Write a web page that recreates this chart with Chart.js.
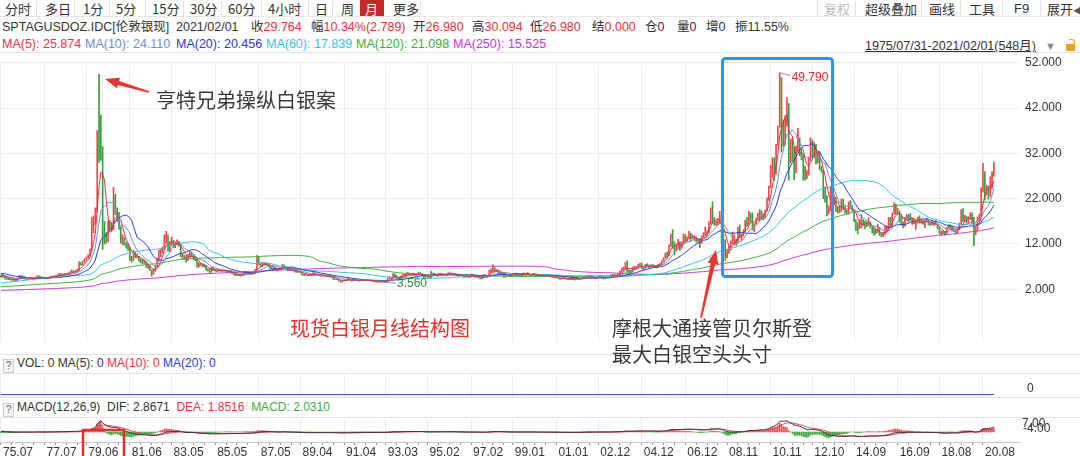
<!DOCTYPE html>
<html>
<head>
<meta charset="utf-8">
<script src="https://cdn.jsdelivr.net/npm/chart.js@4.4.1/dist/chart.umd.min.js"></script>
<style>
  body { margin: 0; width: 1080px; height: 456px; overflow: hidden; background: #fff; position: relative;
         font-family: "Liberation Sans", "Noto Sans CJK SC", sans-serif; color: #333; }
  .t { position: absolute; white-space: nowrap; font-size: 12.5px; line-height: 16px; }
  .tb { position: absolute; top: 0; white-space: nowrap; font-size: 13px; line-height: 17px; font-family: "Noto Sans CJK SC", sans-serif; }
  .sep { position: absolute; top: 1px; width: 1px; height: 15px; background: #e2e2e2; }
  .hl { position: absolute; left: 0; width: 1080px; height: 1px; background: #e3e3e3; }
  .r { color: #e8303a; }
  .q { display: inline-block; width: 9px; height: 12px; line-height: 12px; border: 1px solid #ccc; background: #f4f4f4;
       font-size: 10px; text-align: center; color: #666; vertical-align: -2px; margin-right: 3px; }
  canvas { position: absolute; left: 0; }
  .note { position: absolute; white-space: nowrap; font-family: "Noto Sans CJK SC", sans-serif; font-size: 20px; line-height: 24px; color: #3a3a3a; }
</style>
</head>
<body>
<!-- toolbar -->
<div class="tb" style="left:5px">分时</div>
<div class="sep" style="left:36px"></div>
<div class="tb" style="left:45px">多日</div>
<div class="sep" style="left:74px"></div>
<div class="tb" style="left:83px">1分</div>
<div class="sep" style="left:109px"></div>
<div class="tb" style="left:116px">5分</div>
<div class="sep" style="left:145px"></div>
<div class="tb" style="left:152px">15分</div>
<div class="sep" style="left:183px"></div>
<div class="tb" style="left:190px">30分</div>
<div class="sep" style="left:221px"></div>
<div class="tb" style="left:228px">60分</div>
<div class="sep" style="left:261px"></div>
<div class="tb" style="left:268px">4小时</div>
<div class="sep" style="left:308px"></div>
<div class="tb" style="left:315px">日</div>
<div class="sep" style="left:332px"></div>
<div class="tb" style="left:341px">周</div>
<div style="position:absolute;left:360px;top:0;width:24px;height:16px;background:#c42a2c"></div>
<div class="tb" style="left:365px;color:#fff">月</div>
<div class="tb" style="left:393px">更多</div>
<div class="sep" style="left:420px"></div>
<div class="sep" style="left:817px"></div>
<div class="tb" style="left:824px;color:#bdbdbd">复权</div>
<div class="sep" style="left:855px"></div>
<div class="tb" style="left:865px">超级叠加</div>
<div class="sep" style="left:921px"></div>
<div class="tb" style="left:929px">画线</div>
<div class="sep" style="left:960px"></div>
<div class="tb" style="left:969px">工具</div>
<div class="sep" style="left:1002px"></div>
<div class="tb" style="left:1014px;font-family:'Liberation Sans'">F9</div>
<div class="sep" style="left:1040px"></div>
<div class="tb" style="left:1047px">展开<span style="font-size:9px;color:#555">◀</span></div>
<div class="hl" style="top:16px;background:#e6e6e6"></div>

<!-- quote rows -->
<div class="t" style="left:2px;top:19px">SPTAGUSDOZ.IDC[伦敦银现]</div>
<div class="t" style="left:176px;top:19px">2021/02/01</div>
<div class="t" style="left:251px;top:19px">收<span class="r">29.764</span></div>
<div class="t" style="left:311px;top:19px">幅<span class="r">10.34%(2.789)</span></div>
<div class="t" style="left:413px;top:19px">开<span class="r">26.980</span></div>
<div class="t" style="left:472px;top:19px">高<span class="r">30.094</span></div>
<div class="t" style="left:530px;top:19px">低<span class="r">26.980</span></div>
<div class="t" style="left:592px;top:19px">结<span class="r">0.000</span></div>
<div class="t" style="left:645px;top:19px">仓0</div>
<div class="t" style="left:677px;top:19px">量0</div>
<div class="t" style="left:706px;top:19px">增0</div>
<div class="t" style="left:735px;top:19px">振11.55%</div>

<div class="t" style="left:2px;top:36px;color:#e8304a">MA(5): 25.874</div>
<div class="t" style="left:85px;top:36px;color:#6b8fc6">MA(10): 24.110</div>
<div class="t" style="left:176px;top:36px;color:#2a3ad8">MA(20): 20.456</div>
<div class="t" style="left:266px;top:36px;color:#2ec6e4">MA(60): 17.839</div>
<div class="t" style="left:356px;top:36px;color:#3aae3a">MA(120): 21.098</div>
<div class="t" style="left:453px;top:36px;color:#cc33dd">MA(250): 15.525</div>
<div class="t" style="left:865px;top:38px;text-decoration:underline">1975/07/31-2021/02/01(548月)</div>
<div class="t" style="left:1045px;top:38px;color:#888;font-size:11px">▼</div>
<div style="position:absolute;left:1066px;top:44px;width:9px;height:7px;background:#f0a020"></div>
<div style="position:absolute;left:1068px;top:39px;width:5px;height:6px;border:1.5px solid #f0a020;border-bottom:none;border-radius:3px 3px 0 0;border-left-color:transparent"></div>
<div class="hl" style="top:52px"></div>

<canvas id="main" width="1080" height="301" style="top:53px"></canvas>

<div class="hl" style="top:354px"></div>
<div class="t" style="left:3px;top:355px;font-size:12px">
  <span class="q">?</span>VOL: 0 MA(5): 0 <span style="color:#e8304a">MA(10): 0</span> <span style="color:#2a3ad8">MA(20): 0</span></div>
<div class="hl" style="top:373px"></div>
<canvas id="vol" width="1080" height="24" style="top:373px"></canvas>
<div class="t" style="left:1027px;top:380px;font-size:12px">0</div>
<div class="hl" style="top:397px"></div>
<div class="t" style="left:3px;top:399px;font-size:12px">
  <span class="q">?</span>MACD(12,26,9)&nbsp; DIF: 2.8671&nbsp; <span style="color:#e8304a">DEA: 1.8516</span>&nbsp; <span style="color:#3aae3a">MACD: 2.0310</span></div>
<div class="hl" style="top:417px"></div>
<canvas id="macd" width="1080" height="39" style="top:417px"></canvas>
<div class="t" style="left:1022px;top:415px;font-size:12px">7.00</div>
<div class="t" style="left:1023px;top:420px;font-size:12px">-4.00</div>

<!-- hand annotations -->
<div class="note" style="left:156px;top:88px">亨特兄弟操纵白银案</div>
<div class="note" style="left:290px;top:316px;color:#e8302a">现货白银月线结构图</div>
<div class="note" style="left:612px;top:316px">摩根大通接管贝尔斯登</div>
<div class="note" style="left:612px;top:342px">最大白银空头头寸</div>
<svg width="1080" height="456" style="position:absolute;left:0;top:0;pointer-events:none">
  <rect x="722.5" y="58.5" width="110" height="218" rx="3" fill="none" stroke="#2d96e8" stroke-width="3"/>
  <rect x="83" y="430" width="41" height="30" fill="none" stroke="#e5302a" stroke-width="2.5"/>
  <path id="arrow1" fill="#e8342c"/>
  <path id="arrow2" fill="#e8342c"/>
</svg>

<script>
// monthly silver candles, 1975.07 .. 2021.02 (548 bars); open = previous close
const closes = [
  4.80,5.05,4.45,4.35,4.25,4.20,
  4.05,4.20,3.95,4.40,4.80,4.65,4.75,4.30,4.30,4.35,4.40,4.35,
  4.45,4.65,4.85,4.70,4.55,4.45,4.50,4.45,4.60,4.80,4.75,4.85,
  4.95,5.10,5.45,5.00,5.35,5.30,5.45,5.55,5.80,6.05,5.85,6.05,
  6.20,7.60,7.50,8.05,8.55,8.95,9.40,10.70,16.20,16.50,19.20,36.00,
  34.50,33.00,14.00,13.30,13.20,16.30,16.00,15.60,21.00,19.40,18.00,15.70,
  12.80,13.00,12.00,11.50,11.20,8.90,8.60,10.10,9.20,9.20,8.60,8.20,
  7.90,8.00,7.00,7.00,6.20,5.40,6.10,7.00,8.30,9.30,10.30,10.90,
  13.80,13.90,10.60,12.00,12.80,11.50,12.10,12.30,11.80,9.60,9.00,9.10,
  8.40,9.20,10.20,9.30,9.00,8.60,7.20,7.30,7.40,7.30,7.20,6.40,
  6.20,5.90,6.80,6.20,6.20,6.10,6.20,6.20,6.10,6.10,5.90,5.90,
  6.00,5.60,5.40,5.10,5.20,5.10,5.10,5.20,5.80,5.60,5.50,5.40,
  5.50,5.60,6.30,8.00,7.60,7.10,7.80,7.40,7.60,7.30,6.90,6.70,
  6.50,6.40,6.20,6.50,6.50,7.40,6.90,6.60,6.30,6.30,6.30,6.10,
  5.90,5.90,5.80,5.70,5.20,5.20,5.30,5.10,5.10,5.10,5.60,5.20,
  5.20,5.10,5.00,5.00,5.10,4.90,4.90,4.70,4.80,4.30,4.20,4.20,
  3.90,3.70,3.90,4.00,4.10,4.40,4.10,3.90,4.10,4.00,4.00,3.90,
  4.10,4.10,4.00,3.90,4.00,4.00,3.90,3.80,3.70,3.70,3.70,3.70,
  3.70,3.60,3.80,4.40,4.60,4.40,5.30,4.90,4.20,4.30,4.80,5.10,
  5.10,5.30,5.60,5.30,5.40,5.30,5.10,5.30,5.60,5.30,5.00,4.90,
  4.80,4.70,4.50,5.50,5.40,5.10,5.00,5.40,5.40,5.40,5.20,5.20,
  5.50,5.60,5.50,5.30,5.30,5.10,5.00,5.20,4.90,4.80,4.80,4.80,
  4.70,5.20,5.00,4.70,4.80,4.60,4.40,4.50,5.10,4.80,5.00,6.00,
  6.00,6.70,6.00,6.20,5.40,5.70,5.40,4.90,5.30,5.00,5.00,5.00,
  5.30,5.50,5.10,5.10,5.00,5.40,5.30,5.20,5.40,5.20,5.10,5.40,
  5.10,5.20,5.00,5.00,4.90,5.00,4.90,5.00,4.90,4.80,4.70,4.60,
  4.60,4.40,4.30,4.30,4.40,4.40,4.20,4.20,4.60,4.20,4.10,4.60,
  4.20,4.30,4.50,4.60,4.90,4.90,4.80,4.50,4.60,4.40,4.60,4.70,
  4.90,4.60,4.40,4.50,4.60,4.60,5.10,5.00,5.20,5.00,5.30,5.90,
  6.30,6.60,7.90,6.20,6.10,5.90,6.60,6.90,6.90,7.30,7.60,6.80,
  6.70,7.30,7.20,7.00,7.30,7.10,7.20,6.90,7.50,7.70,8.20,8.80,
  9.70,9.60,11.60,13.40,12.40,10.80,11.30,12.40,11.50,12.20,13.80,12.90,
  13.40,14.20,13.30,13.40,13.40,12.50,12.90,12.10,13.70,14.20,14.40,14.80,
  16.80,19.80,17.20,16.40,16.90,17.50,17.80,13.60,12.90,9.80,10.30,11.30,
  12.60,13.10,13.10,12.40,15.60,13.90,13.90,14.80,16.70,16.30,18.50,16.90,
  16.10,16.40,17.50,18.70,18.40,18.70,18.00,19.40,22.10,24.40,28.30,30.90,
  27.90,33.80,37.90,48.60,38.30,34.90,40.00,41.70,30.00,34.60,32.70,28.20,
  33.30,34.60,32.50,31.20,28.50,27.40,27.90,31.00,34.60,32.30,32.80,30.00,
  31.80,29.00,28.30,24.30,22.20,19.70,19.80,23.70,21.70,21.90,19.50,19.50,
  19.20,21.20,19.80,19.10,18.80,21.00,20.40,19.50,17.10,16.30,15.60,15.60,
  17.20,16.70,16.60,16.30,16.80,15.60,14.70,14.60,14.50,15.50,14.10,13.80,
  14.40,15.00,15.40,17.90,16.00,18.60,20.30,18.70,19.20,17.70,16.50,16.00,
  17.60,18.40,18.20,17.30,17.40,16.60,16.70,17.60,16.70,16.70,16.50,17.20,
  17.30,16.40,16.30,16.40,16.40,16.20,15.50,14.50,14.70,14.40,14.20,15.50,
  16.10,15.90,15.10,14.90,14.60,15.30,16.40,18.40,17.00,18.10,17.00,17.90,
  18.00,16.70,14.00,15.00,18.00,18.60,24.40,28.00,23.40,23.90,22.60,26.40,
  26.975,29.764
];
const highs = [
  5.15,5.30,5.10,4.60,4.45,4.35,
  4.30,4.35,4.25,4.50,5.05,5.00,4.95,4.80,4.45,4.45,4.55,4.50,
  4.55,4.70,4.95,4.95,4.75,4.60,4.55,4.55,4.65,4.85,4.90,4.95,
  5.00,5.20,5.55,5.45,5.40,5.50,5.55,5.65,5.90,6.30,6.10,6.15,
  6.40,8.10,7.90,8.20,8.70,9.10,9.60,10.90,17.80,18.20,20.00,37.00,
  49.45,40.50,33.50,17.00,14.50,17.00,17.20,16.80,24.50,23.00,20.00,19.00,
  15.80,14.00,13.40,12.30,12.00,11.20,9.30,10.60,10.20,9.80,9.30,8.70,
  8.60,8.50,8.10,7.30,7.10,6.30,6.40,7.30,8.90,10.60,10.90,11.30,
  14.00,14.80,14.00,12.50,13.50,12.80,12.50,12.90,12.60,12.00,9.90,9.50,
  9.20,9.70,10.30,10.10,9.60,9.10,8.60,7.90,7.80,7.60,7.50,7.30,
  6.50,6.40,7.00,6.90,6.40,6.30,6.40,6.40,6.30,6.30,6.20,6.00,
  6.20,6.10,5.70,5.50,5.30,5.30,5.20,5.30,5.90,5.90,5.70,5.60,
  5.60,5.70,6.40,9.50,9.20,7.80,8.00,7.90,7.80,7.80,7.40,7.00,
  6.80,6.70,6.60,6.60,6.70,7.50,7.40,7.00,6.70,6.50,6.40,6.40,
  6.20,6.10,6.00,5.90,5.70,5.30,5.40,5.30,5.30,5.30,5.70,5.70,
  5.40,5.40,5.10,5.10,5.20,5.10,5.00,5.00,4.90,4.80,4.30,4.30,
  4.20,3.90,4.00,4.10,4.20,4.60,4.40,4.10,4.20,4.20,4.10,4.00,
  4.20,4.20,4.20,4.00,4.10,4.10,4.00,3.90,3.80,3.80,3.80,3.80,
  3.80,3.70,3.90,4.50,4.80,4.60,5.40,5.40,5.00,4.40,4.90,5.20,
  5.30,5.50,5.80,5.60,5.50,5.60,5.40,5.40,5.80,5.70,5.40,5.10,
  4.90,4.80,4.70,6.00,5.60,5.50,5.20,5.50,5.60,5.50,5.40,5.30,
  5.60,5.80,5.60,5.60,5.40,5.30,5.20,5.30,5.20,4.90,4.90,4.90,
  4.90,5.30,5.30,5.00,4.80,4.80,4.60,4.60,5.30,5.20,5.10,6.20,
  6.50,7.40,6.80,6.40,6.20,5.80,5.70,5.50,5.50,5.30,5.20,5.10,
  5.50,5.60,5.60,5.40,5.30,5.50,5.60,5.30,5.70,5.60,5.30,5.50,
  5.50,5.40,5.30,5.10,5.10,5.10,5.10,5.10,5.10,5.00,4.80,4.70,
  4.80,4.60,4.50,4.40,4.60,4.50,4.40,4.40,4.80,4.80,4.30,4.70,
  4.60,4.40,4.60,4.70,5.00,5.10,5.00,4.80,4.70,4.60,4.60,4.80,
  5.00,4.90,4.70,4.60,4.80,4.70,5.20,5.30,5.30,5.20,5.40,6.00,
  6.70,6.90,7.90,8.30,6.30,6.20,6.90,7.10,7.00,7.50,7.80,7.80,
  6.90,7.50,7.60,7.40,7.40,7.50,7.30,7.30,7.50,7.70,8.30,9.00,
  10.00,10.20,11.80,14.20,15.20,12.50,11.80,13.00,12.50,12.50,14.20,14.10,
  13.60,14.80,14.40,14.00,13.80,13.60,13.20,13.00,13.80,14.50,15.80,14.90,
  16.90,20.00,21.30,17.80,17.10,17.60,19.20,18.00,14.00,12.90,10.80,11.50,
  12.70,14.60,14.00,13.10,15.70,16.20,14.20,15.10,17.30,17.90,19.20,18.90,
  18.80,16.50,17.70,18.80,19.60,19.30,18.70,19.50,22.20,24.80,29.30,31.00,
  31.00,34.00,38.00,49.79,48.70,39.40,40.30,44.30,43.00,35.10,35.50,33.30,
  33.60,37.50,35.40,33.00,31.60,29.20,28.20,31.20,35.40,34.90,34.50,34.00,
  32.40,32.40,29.10,28.40,24.60,22.70,20.40,24.80,25.20,22.80,22.30,20.30,
  20.40,21.90,21.90,20.30,19.50,21.30,21.60,20.50,19.60,17.40,16.70,17.30,
  18.50,17.40,17.10,16.90,17.80,16.90,15.80,15.60,15.20,16.40,15.60,14.30,
  14.60,15.90,16.00,17.90,17.90,18.80,21.10,20.80,19.90,19.30,18.50,16.90,
  17.90,18.50,18.50,18.70,17.60,17.60,17.00,17.90,18.20,17.50,17.30,17.20,
  17.70,17.30,16.70,17.30,16.80,17.30,16.20,15.60,14.90,14.90,14.70,15.60,
  16.20,16.20,15.90,15.20,14.90,15.50,16.60,19.60,19.80,18.30,18.10,18.00,
  18.90,18.90,17.90,15.70,18.00,18.60,24.40,29.80,28.00,25.00,24.70,26.80,
  28.00,30.094
];
const lows = [
  4.60,4.70,4.30,4.20,4.10,4.05,
  3.95,3.95,3.85,3.90,4.35,4.50,4.50,4.25,4.20,4.20,4.30,4.25,
  4.30,4.40,4.60,4.60,4.50,4.35,4.40,4.40,4.40,4.55,4.65,4.70,
  4.80,4.90,5.05,4.95,4.95,5.20,5.25,5.35,5.50,5.75,5.70,5.80,
  5.95,6.15,7.30,7.40,8.00,8.50,8.80,9.30,10.60,14.50,16.20,19.00,
  30.00,30.50,10.80,12.00,12.20,12.50,15.20,14.80,15.20,18.50,17.00,15.20,
  12.20,11.80,11.70,11.10,10.60,8.40,8.00,8.40,9.00,8.90,8.20,7.90,
  7.60,7.70,6.80,6.60,6.10,4.90,5.30,6.00,6.90,8.20,9.20,10.00,
  10.80,12.20,10.40,10.30,11.70,11.20,11.20,11.80,11.50,9.20,8.70,8.60,
  8.00,8.30,9.10,9.20,8.60,8.30,6.90,6.90,7.20,7.00,6.90,6.20,
  6.00,5.60,5.80,6.10,6.00,5.90,6.00,6.00,5.90,6.00,5.80,5.70,
  5.80,5.50,5.30,5.00,5.00,5.00,4.90,5.00,5.10,5.50,5.40,5.30,
  5.30,5.40,5.50,6.20,7.40,6.90,7.00,7.30,7.30,7.20,6.60,6.50,
  6.30,6.30,6.00,6.20,6.40,6.40,6.80,6.50,6.10,6.10,6.10,6.00,
  5.80,5.70,5.70,5.60,5.10,5.00,5.10,5.00,5.00,5.00,5.00,5.10,
  5.10,5.00,4.90,4.90,4.90,4.80,4.80,4.70,4.60,4.20,4.10,4.10,
  3.80,3.60,3.60,3.90,3.90,4.00,4.00,3.80,3.80,3.90,3.90,3.80,
  3.90,4.00,3.90,3.90,3.90,3.90,3.80,3.70,3.60,3.60,3.60,3.60,
  3.60,3.56,3.60,3.80,4.30,4.30,4.40,4.80,4.20,4.10,4.20,4.70,
  5.00,5.00,5.20,5.20,5.20,5.20,5.00,5.00,5.30,5.20,4.90,4.60,
  4.60,4.60,4.40,4.40,5.20,5.00,4.90,4.90,5.20,5.20,5.10,5.10,
  5.20,5.40,5.40,5.20,5.20,5.00,4.90,5.00,4.90,4.70,4.70,4.70,
  4.60,4.70,5.00,4.60,4.60,4.50,4.30,4.30,4.50,4.80,4.70,5.00,
  5.60,5.90,5.80,5.90,5.30,5.10,5.30,4.70,4.70,4.90,4.80,4.80,
  5.00,5.30,5.00,5.00,4.90,4.90,5.20,5.10,5.10,5.10,5.00,5.00,
  5.00,5.00,4.90,4.90,4.90,4.90,4.90,4.80,4.80,4.70,4.60,4.50,
  4.50,4.40,4.20,4.30,4.30,4.30,4.20,4.10,4.10,4.10,4.00,4.10,
  4.20,4.20,4.30,4.50,4.60,4.80,4.60,4.40,4.50,4.40,4.40,4.50,
  4.60,4.50,4.30,4.30,4.50,4.50,4.50,4.90,4.90,4.80,5.00,5.30,
  5.80,6.10,6.50,5.80,5.50,5.60,5.80,6.50,6.50,6.80,7.20,6.50,
  6.30,6.60,7.00,6.80,6.90,7.00,6.90,6.70,6.80,7.40,7.50,8.20,
  8.80,9.00,9.50,11.40,11.00,9.60,10.50,11.00,10.60,11.00,12.30,12.60,
  12.60,13.20,12.70,13.20,12.80,12.40,12.40,11.20,12.20,13.40,13.80,13.90,
  14.50,16.30,16.60,16.10,16.10,16.30,16.60,12.30,10.50,8.40,8.90,9.90,
  10.60,12.00,11.90,11.70,12.20,13.40,12.80,13.80,14.70,15.90,16.30,16.80,
  15.10,14.70,16.30,17.40,17.10,17.60,17.30,17.70,19.30,21.60,24.90,26.70,
  26.10,27.40,33.80,37.80,32.30,33.50,33.80,38.00,26.10,29.90,30.20,26.20,
  27.70,32.60,31.50,30.60,26.10,26.10,26.40,27.20,30.40,31.10,31.20,29.60,
  29.90,28.40,27.90,22.00,21.20,18.20,18.60,19.30,20.60,20.60,19.20,18.80,
  18.90,19.20,19.60,18.80,18.70,18.60,20.20,19.20,16.90,15.00,14.20,15.30,
  15.60,16.10,15.30,15.80,16.00,15.50,14.40,13.90,14.30,14.50,13.90,13.60,
  13.60,14.00,14.80,15.20,15.70,15.80,18.60,18.50,18.60,16.80,16.20,15.60,
  15.90,17.40,16.80,17.20,16.30,16.40,15.20,16.60,16.60,16.60,16.30,15.60,
  16.90,16.20,16.10,16.20,16.10,16.20,15.30,14.30,13.90,14.30,13.90,14.20,
  15.40,15.60,14.90,14.70,14.20,14.30,15.20,16.30,16.90,16.90,16.60,16.60,
  17.50,16.50,11.60,14.30,15.00,17.10,18.30,23.50,21.70,22.90,21.90,22.50,
  24.20,26.98
];
// closes before the window (1954.10 .. 1975.06), used only to warm up MA / MACD
const prior = [
  0.85,0.86,0.86,
  0.87,0.87,0.88,0.88,0.89,0.89,0.90,0.90,0.91,0.91,0.91,0.91,
  0.91,0.91,0.91,0.91,0.91,0.91,0.91,0.91,0.91,0.91,0.91,0.91,
  0.91,0.91,0.91,0.91,0.91,0.91,0.91,0.91,0.91,0.90,0.90,0.90,
  0.89,0.89,0.88,0.88,0.88,0.88,0.89,0.89,0.90,0.90,0.90,0.90,
  0.91,0.91,0.91,0.91,0.91,0.91,0.91,0.91,0.91,0.91,0.91,0.91,
  0.91,0.91,0.91,0.91,0.91,0.91,0.91,0.91,0.91,0.91,0.91,0.91,
  0.91,0.91,0.91,0.91,0.91,0.91,0.91,0.91,0.91,0.91,0.95,1.04,
  1.02,1.02,1.01,1.02,1.03,1.05,1.07,1.08,1.10,1.15,1.17,1.21,
  1.22,1.26,1.28,1.28,1.28,1.29,1.29,1.29,1.29,1.29,1.29,1.29,
  1.29,1.29,1.29,1.29,1.29,1.29,1.29,1.29,1.29,1.29,1.29,1.29,
  1.29,1.29,1.29,1.29,1.29,1.29,1.29,1.29,1.29,1.29,1.29,1.29,
  1.29,1.29,1.29,1.29,1.29,1.29,1.29,1.29,1.29,1.29,1.29,1.29,
  1.29,1.29,1.29,1.29,1.29,1.40,1.70,1.85,1.85,1.90,2.00,2.10,
  2.10,2.05,2.10,2.30,2.50,2.40,2.30,2.25,2.20,2.05,1.95,1.95,
  2.00,1.90,1.85,1.80,1.75,1.70,1.75,1.85,1.90,1.90,1.90,1.85,
  1.90,1.90,1.90,1.90,1.80,1.75,1.75,1.80,1.85,1.90,1.85,1.80,
  1.75,1.65,1.75,1.80,1.75,1.75,1.80,1.80,1.75,1.75,1.75,1.80,
  1.85,1.95,2.00,2.05,2.05,2.00,2.15,2.30,2.30,2.35,2.45,2.65,
  2.70,3.00,3.20,3.05,3.30,3.50,3.90,3.60,3.50,3.80,4.10,4.50,
  5.00,6.80,6.60,6.20,6.10,5.70,5.50,5.40,5.60,5.90,5.80,5.40,
  5.00,5.10,5.00,4.90,5.10,5.00
];
const volumes = closes.map(() => 0);   // the feed carries no volume

const tickLabels = ['75.07','77.07','79.06','81.06','83.05','85.05','87.05','89.04','91.04','93.03','95.02','97.02',
                    '99.01','01.01','02.12','04.12','06.12','08.11','10.11','12.10','14.09','16.09','18.08','20.08'];
const tickBars = [0,24,47,71,94,118,142,165,189,212,235,259,282,306,329,353,377,400,424,447,470,494,517,541];
const priceTicks = [2,12,22,32,42,52];
const maPeriods = [5,10,20,60,120,250];
const maColors = ['#e8304a','#6b8fc6','#2a3ad8','#2ec6e4','#3aae3a','#cc33dd'];

const UP = '#f0474a', DOWN = '#3a9e3a', GRID = '#ececec';
const N = closes.length;
const opens = closes.map((c, i) => i ? closes[i - 1] : prior[prior.length - 1]);
const full = prior.concat(closes);
const P0 = prior.length;

function movingAvg(src, p, offset) {
  const out = [];
  for (let i = 0; i < N; i++) {
    const k = offset + i, s = Math.max(0, k - p + 1);
    let sum = 0;
    for (let j = s; j <= k; j++) sum += src[j];
    out.push(sum / (k - s + 1));
  }
  return out;
}
function ema(src, p) {
  const a = 2 / (p + 1), out = [src[0]];
  for (let i = 1; i < src.length; i++) out.push(a * src[i] + (1 - a) * out[i - 1]);
  return out;
}
const e12 = ema(full, 12), e26 = ema(full, 26);
const difFull = e12.map((v, i) => v - e26[i]);
const deaFull = ema(difFull, 9);
const dif = difFull.slice(P0), dea = deaFull.slice(P0);
const hist = dif.map((v, i) => 2 * (v - dea[i]));

const pts = arr => arr.map((v, i) => ({ x: i, y: v }));
const XMIN = -0.55, XMAX = 561.4;

let minor = [];
tickBars.forEach((b, k) => {
  const next = k + 1 < tickBars.length ? tickBars[k + 1] : N;
  for (let m = b + 6; m < next - 2; m += 6) minor.push(m);
});
const allTicks = tickBars.concat(minor).sort((a, b) => a - b);

function xAxis(showLabels) {
  return {
    type: 'linear', min: XMIN, max: XMAX, offset: false,
    afterBuildTicks: s => { s.ticks = (showLabels ? allTicks : tickBars).map(v => ({ value: v })); },
    afterFit: s => { s.height = showLabels ? 14 : 0; },
    grid: {
      offset: false,
      color: c => (c.tick && tickBars.includes(c.tick.value)) ? GRID : 'rgba(0,0,0,0)',
      tickColor: '#999', drawTicks: showLabels, tickLength: 3
    },
    border: { display: showLabels, color: '#c8c8c8' },
    ticks: {
      display: showLabels, autoSkip: false, maxRotation: 0, minRotation: 0, align: 'start',
      padding: 0, labelOffset: 2, color: '#333', font: { size: 12, family: 'Liberation Sans' },
      callback: v => { const k = tickBars.indexOf(v); return k >= 0 ? tickLabels[k] : ''; }
    }
  };
}
const baseOpts = { responsive: false, animation: false, devicePixelRatio: 1, events: [],
  plugins: { legend: { display: false }, tooltip: { enabled: false } },
  layout: { padding: 0, autoPadding: false } };

// set the value range so that v1 lands on canvas row y1 and v2 on row y2
function pinScale(chart, v1, y1, v2, y2) {
  const a = chart.chartArea, k = (y2 - y1) / (v1 - v2), s = chart.options.scales.y;
  s.max = v1 + (y1 - a.top) / k;
  s.min = v2 - (a.bottom - y2) / k;
  chart.update();
}

// high / low markers drawn through the price scale
const extremes = {
  id: 'extremes',
  afterDatasetsDraw(chart) {
    const { ctx, scales: { x, y } } = chart;
    let hi = 0, lo = 0;
    for (let i = 1; i < N; i++) { if (highs[i] > highs[hi]) hi = i; if (lows[i] < lows[lo]) lo = i; }
    ctx.save();
    ctx.font = '12px "Liberation Sans"';
    ctx.textBaseline = 'middle';
    let px = x.getPixelForValue(hi), py = y.getPixelForValue(highs[hi]);
    ctx.strokeStyle = '#7d9bb0'; ctx.lineWidth = 1;
    ctx.beginPath(); ctx.moveTo(px, py); ctx.lineTo(px + 11, py + 3); ctx.stroke();
    ctx.fillStyle = '#e0302a'; ctx.fillText(highs[hi].toFixed(3), px + 12, py + 5);
    px = x.getPixelForValue(lo); py = y.getPixelForValue(lows[lo]);
    ctx.strokeStyle = '#7d9bb0';
    ctx.beginPath(); ctx.moveTo(px, py); ctx.lineTo(px + 12, py + 1); ctx.stroke();
    ctx.fillStyle = '#2a8a3a'; ctx.fillText(lows[lo].toFixed(3), px + 13, py + 1);
    ctx.restore();
  }
};

const mainChart = new Chart(document.getElementById('main'), {
  type: 'bar',
  data: { datasets: [
    ...maPeriods.map((p, j) => ({
      type: 'line', data: pts(movingAvg(full, p, P0)), borderColor: maColors[j],
      borderWidth: 1, pointRadius: 0, tension: 0, order: 0
    })),
    {
      type: 'bar', order: 1, barThickness: 1,
      data: closes.map((c, i) => ({ x: i, y: [Math.min(lows[i], opens[i], c), Math.max(highs[i], opens[i], c)] })),
      backgroundColor: closes.map((c, i) => c >= opens[i] ? UP : DOWN)
    }
  ]},
  options: { ...baseOpts,
    scales: {
      x: xAxis(false),
      y: {
        position: 'right', min: -12, max: 54,
        afterBuildTicks: s => { s.ticks = priceTicks.map(v => ({ value: v })); },
        afterFit: s => { s.width = 60; },
        grid: { color: GRID, drawTicks: false }, border: { display: false },
        ticks: { padding: 5, color: '#333', font: { size: 12, family: 'Liberation Sans' }, callback: v => v.toFixed(3) }
      }
    }
  },
  plugins: [extremes]
});
pinScale(mainChart, 52, 62.7 - 53, 2, 289.3 - 53);

// volume MA lines; MA(20) is listed first so it is painted on top
const volColors = ['#3d5ce0', '#e8304a', '#333333'];
const volChart = new Chart(document.getElementById('vol'), {
  type: 'line',
  data: { datasets: [20, 10, 5].map((p, j) => ({
    data: pts(movingAvg(volumes, p, 0)), borderColor: volColors[j], borderWidth: 1, pointRadius: 0
  })) },
  options: { ...baseOpts,
    scales: {
      x: xAxis(false),
      y: { position: 'right', min: -0.1, max: 1, afterFit: s => { s.width = 60; },
           ticks: { display: false }, grid: { display: false }, border: { display: false } }
    }
  }
});
pinScale(volChart, 1, 0, 0, 21.5);

const macdChart = new Chart(document.getElementById('macd'), {
  type: 'bar',
  data: { datasets: [
    { type: 'line', order: 0, data: pts(dif), borderColor: '#333333', borderWidth: 1, pointRadius: 0 },
    { type: 'line', order: 0, data: pts(dea), borderColor: '#e8406a', borderWidth: 1, pointRadius: 0 },
    { type: 'bar', order: 1, barThickness: 1, data: pts(hist),
      backgroundColor: hist.map(v => v >= 0 ? '#f05050' : '#3aae3a') }
  ]},
  options: { ...baseOpts,
    scales: {
      x: xAxis(true),
      y: { position: 'right', min: -5.9, max: 8.8, afterFit: s => { s.width = 60; },
           ticks: { display: false }, grid: { display: false }, border: { display: false } }
    }
  }
});
pinScale(macdChart, 7, 3, 0, 15);

// hand-drawn arrows
function arrow(id, x1, y1, x2, y2) {
  const dx = x2 - x1, dy = y2 - y1, L = Math.hypot(dx, dy), ux = dx / L, uy = dy / L, nx = -uy, ny = ux;
  const hl = 14, hw = 5.5, sw0 = 0.8, sw1 = 2.2;
  const bx = x2 - ux * hl, by = y2 - uy * hl;
  const p = [
    [x1 + nx * sw0, y1 + ny * sw0], [bx + nx * sw1, by + ny * sw1], [bx + nx * hw, by + ny * hw], [x2, y2],
    [bx - nx * hw, by - ny * hw], [bx - nx * sw1, by - ny * sw1], [x1 - nx * sw0, y1 - ny * sw0]
  ];
  document.getElementById(id).setAttribute('d', 'M' + p.map(q => q[0].toFixed(1) + ',' + q[1].toFixed(1)).join('L') + 'Z');
}
arrow('arrow1', 149, 92, 105, 79);
arrow('arrow2', 701, 318, 716, 250);
</script>
</body>
</html>
